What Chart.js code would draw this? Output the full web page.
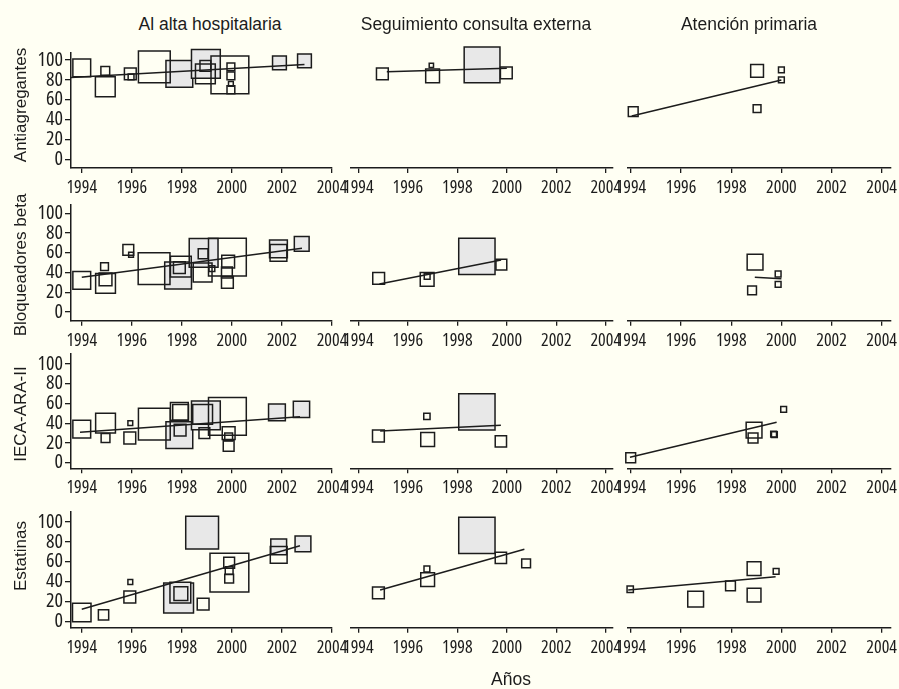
<!DOCTYPE html>
<html lang="es">
<head>
<meta charset="utf-8">
<title>Prescripción por ámbito asistencial</title>
<script src="https://cdn.jsdelivr.net/npm/chart.js@4.4.1/dist/chart.umd.min.js"></script>
<style>
  html, body { margin: 0; padding: 0; }
  body {
    width: 899px; height: 689px; position: relative; overflow: hidden;
    background: #fffff3; color: #1c1c1c;
    font-family: 'Liberation Sans', Arial, sans-serif;
  }
  canvas { position: absolute; }
  .lbl { position: absolute; white-space: nowrap; font-size: 17.5px; line-height: 20px; transform: translate(-50%, -50%); }
  .rot { font-size: 17px; transform: translate(-50%, -50%) rotate(-90deg); }
</style>
</head>
<body>
<script>
// each study: [year, percent, weight, filled(1) / open(0)]
const antiAlta = [
  [1994.0, 92, 19, 0], [1994.94, 89, 10, 0], [1994.94, 73, 21, 0], [1995.94, 86, 13, 0],
  [1995.97, 83, 7, 0], [1996.9, 93, 33, 0], [1997.9, 86, 28, 1], [1998.96, 96, 30, 1],
  [1998.94, 86, 21, 0], [1998.94, 94, 12, 0], [1999.92, 85, 39, 0], [1999.96, 93, 9, 0],
  [1999.96, 84, 9, 0], [1999.96, 76, 6, 0], [1999.96, 70, 9, 0], [2001.9, 97, 15, 1], [2002.9, 99, 15, 1]
];
const antiSeg = [
  [1994.97, 86, 13, 0], [1996.95, 94.5, 5.5, 0], [1997.0, 84, 15, 0], [1999.0, 95, 37, 1], [1999.98, 87, 13, 0]
];
const antiPrim = [
  [1994.09, 48, 11, 0], [1999.03, 89, 14, 0], [1999.03, 51, 9, 0], [2000.0, 90, 7, 0], [2000.0, 80, 7, 0]
];

const betaAlta = [
  [1994.0, 32, 19, 0], [1994.91, 46, 9, 0], [1994.95, 29, 21, 0], [1994.95, 33, 14, 0],
  [1995.86, 63, 12, 0], [1995.97, 58, 6, 0], [1996.89, 44, 33, 0], [1997.85, 37, 28, 1],
  [1997.96, 46, 22, 0], [1997.9, 45, 13, 0], [1998.87, 60, 30, 1], [1998.85, 59, 11, 0],
  [1998.83, 40, 20, 0], [1999.82, 55.5, 39, 0], [1999.2, 44, 7, 0], [1999.85, 51, 14, 0],
  [1999.8, 40, 12, 0], [1999.82, 30, 13, 0], [2001.86, 64, 19, 1], [2001.86, 60, 18, 0], [2002.79, 69, 16, 1]
];
const betaSeg = [
  [1994.82, 34, 13, 0], [1996.78, 33, 15, 0], [1996.78, 36, 7, 0], [1998.79, 56.4, 37.5, 1], [1999.78, 48, 12, 0]
];
const betaPrim = [
  [1998.95, 50.5, 17, 0], [1998.83, 22, 10, 0], [1999.87, 38.5, 7, 0], [1999.87, 28, 7, 0]
];

const iecaAlta = [
  [1994.0, 34, 19, 0], [1994.95, 40, 21, 0], [1994.95, 25, 10, 0], [1995.94, 40, 6, 0],
  [1995.92, 25, 13, 0], [1996.9, 39, 33, 0], [1997.9, 28, 28, 1], [1997.93, 33, 13, 1],
  [1998.96, 48, 30, 1], [1998.83, 49, 21, 1], [1997.9, 52, 19, 0], [1997.95, 51, 17, 0],
  [1998.9, 30, 12, 0], [1999.82, 47, 39, 0], [1999.87, 30, 14, 0], [1999.87, 17, 12, 0],
  [1999.87, 26, 9, 0], [2001.8, 51, 18, 1], [2002.78, 54, 17.5, 1]
];
const iecaSeg = [
  [1994.81, 27, 13, 0], [1996.77, 47, 7.5, 0], [1996.8, 23.5, 15, 0], [1998.79, 51.4, 37.5, 1], [1999.76, 21.5, 12.5, 0]
];
const iecaPrim = [
  [1993.99, 5, 11, 0], [1998.91, 33, 17, 0], [1998.87, 25, 11, 0], [1999.69, 29, 7, 0],
  [1999.72, 28.5, 7, 0], [2000.09, 54, 7, 0]
];

const estaAlta = [
  [1994.0, 9, 19.7, 0], [1994.87, 6.5, 11.5, 0], [1995.94, 39.6, 6, 0], [1995.92, 24.5, 13, 0],
  [1998.81, 89.4, 34, 1], [1997.87, 23.5, 31, 1], [1997.94, 29, 22, 1], [1997.96, 28, 15, 1],
  [1998.85, 17.4, 13, 0], [1999.9, 49, 40, 0], [1999.89, 59, 12, 0], [1999.89, 51, 9, 0],
  [1999.89, 43, 10, 0], [2001.87, 75, 17, 1], [2001.87, 67, 18, 0], [2002.84, 78, 17, 1]
];
const estaSeg = [
  [1994.81, 28.7, 13, 0], [1996.77, 52.7, 7, 0], [1996.8, 42, 15, 0], [1998.79, 86.6, 37.5, 1],
  [1999.76, 64, 12.5, 0], [2000.78, 58.4, 10, 0]
];
const estaPrim = [
  [1993.97, 32.3, 7.5, 0], [1996.58, 22.3, 17, 0], [1997.97, 35.8, 11, 0], [1998.91, 53, 15, 0],
  [1998.91, 26.5, 15, 0], [1999.79, 50.4, 7, 0]
];

// fitted trend lines: [year, percent] at both ends
const antiAltaFit = [[1993.57, 82.3], [2002.9, 95.3]];
const antiSegFit = [[1995.15, 88.2], [2000.0, 91.6]];
const antiPrimFit = [[1994.03, 43.6], [2000.0, 79.9]];
const betaAltaFit = [[1994.0, 35.1], [2002.8, 64.5]];
const betaSegFit = [[1994.85, 28.4], [1999.77, 52.7]];
const betaPrimFit = [[1998.94, 35.1], [2000.0, 33.7]];
const iecaAltaFit = [[1993.93, 30.8], [2002.72, 46.6]];
const iecaSegFit = [[1994.88, 32.1], [1999.76, 37.9]];
const iecaPrimFit = [[1993.96, 5.5], [1999.81, 40.9]];
const estaAltaFit = [[1994.0, 12.1], [2002.72, 76.1]];
const estaSegFit = [[1994.88, 31.5], [2000.71, 72.5]];
const estaPrimFit = [[1993.89, 31.5], [1999.77, 44.9]];

const colTitles = ['Al alta hospitalaria', 'Seguimiento consulta externa', 'Atención primaria'];
const rowTitles = ['Antiagregantes', 'Bloqueadores beta', 'IECA-ARA-II', 'Estatinas'];
const xTitle = 'Años';
const yearTicks = [1994, 1996, 1998, 2000, 2002, 2004];
const pctTicks = [0, 20, 40, 60, 80, 100];

const studies = [
  [antiAlta, antiSeg, antiPrim],
  [betaAlta, betaSeg, betaPrim],
  [iecaAlta, iecaSeg, iecaPrim],
  [estaAlta, estaSeg, estaPrim]
];
const fits = [
  [antiAltaFit, antiSegFit, antiPrimFit],
  [betaAltaFit, betaSegFit, betaPrimFit],
  [iecaAltaFit, iecaSegFit, iecaPrimFit],
  [estaAltaFit, estaSegFit, estaPrimFit]
];

// panel geometry (page pixels) and axis ranges
const colBox = [
  { left: 71, right: 332, min: 1993.57, max: 2004.0 },
  { left: 350.7, right: 612.7, min: 1993.69, max: 2004.28 },
  { left: 627.7, right: 890.7, min: 1993.87, max: 2004.36 }
];
const rowBox = [
  { top: 53, bottom: 168, min: -8.8, max: 107 },
  { top: 205, bottom: 320.7, min: -8.8, max: 108.4 },
  { top: 353.3, bottom: 468.3, min: -5.7, max: 110.8 },
  { top: 511.7, bottom: 627.7, min: -6.4, max: 110.4 }
];

// Open Sans is variable in width; the stretch keyword rides in the weight slot of the font string
const TICK_X_FONT = { family: "'Open Sans', 'DejaVu Sans Condensed', sans-serif", size: 18, weight: 'condensed' };
const TICK_Y_FONT = { family: "'Open Sans', 'DejaVu Sans Condensed', sans-serif", size: 20, weight: 'semi-condensed' };
const INK = '#1c1c1c';

function radiusFor(w) {
  return Math.max(w - 1.2, 2) / Math.SQRT2;
}

function addLabel(text, x, y, rotated) {
  const d = document.createElement('div');
  d.className = rotated ? 'lbl rot' : 'lbl';
  d.textContent = text;
  d.style.left = x + 'px';
  d.style.top = y + 'px';
  document.body.appendChild(d);
}

function makePanel(r, c) {
  const col = colBox[c], row = rowBox[r];
  const hasY = c === 0;
  const cLeft = Math.floor(col.left - (hasY ? 71 : 22));
  const cTop = Math.floor(row.top - 14);
  const cRight = Math.ceil(col.right + 22);
  const cBottom = Math.ceil(row.bottom + 32);

  const canvas = document.createElement('canvas');
  canvas.width = cRight - cLeft;
  canvas.height = cBottom - cTop;
  canvas.style.left = cLeft + 'px';
  canvas.style.top = cTop + 'px';
  document.body.appendChild(canvas);

  const pts = studies[r][c];
  const filled = pts.filter(p => p[3] === 1);
  const open = pts.filter(p => p[3] === 0);
  const asXY = arr => arr.map(p => ({ x: p[0], y: p[1] }));

  new Chart(canvas, {
    type: 'scatter',
    data: {
      datasets: [{
        type: 'line',
        data: asXY(fits[r][c]),
        borderColor: INK,
        borderWidth: 1.5,
        pointRadius: 0,
        fill: false,
        clip: false
      }, {
        data: asXY(open),
        pointStyle: 'rect',
        pointRadius: open.map(p => radiusFor(p[2])),
        pointBackgroundColor: 'rgba(0,0,0,0)',
        pointBorderColor: INK,
        pointBorderWidth: 1.5,
        clip: false
      }, {
        data: asXY(filled),
        pointStyle: 'rect',
        pointRadius: filled.map(p => radiusFor(p[2])),
        pointBackgroundColor: '#e8e8e8',
        pointBorderColor: INK,
        pointBorderWidth: 1.5,
        clip: false
      }]
    },
    options: {
      responsive: false,
      animation: false,
      events: [],
      layout: {
        autoPadding: false,
        padding: {
          left: hasY ? 0 : col.left - cLeft,
          right: cRight - col.right,
          top: row.top - cTop,
          bottom: 0
        }
      },
      plugins: { legend: { display: false }, tooltip: { enabled: false } },
      scales: {
        x: {
          type: 'linear',
          position: 'bottom',
          min: col.min,
          max: col.max,
          afterBuildTicks: s => { s.ticks = yearTicks.map(v => ({ value: v })); },
          afterFit: s => { s.height = cBottom - row.bottom; },
          grid: { drawOnChartArea: false, drawTicks: true, tickLength: 5, color: INK, lineWidth: 1.3 },
          border: { display: true, color: INK, width: 1.5 },
          ticks: {
            autoSkip: false, maxRotation: 0, padding: 4, color: INK,
            font: TICK_X_FONT,
            callback: v => String(v)
          }
        },
        y: {
          type: 'linear',
          position: 'left',
          display: hasY,
          min: row.min,
          max: row.max,
          afterBuildTicks: s => { s.ticks = pctTicks.map(v => ({ value: v })); },
          afterFit: s => { s.width = hasY ? col.left - cLeft : 0; },
          grid: { drawOnChartArea: false, drawTicks: true, tickLength: 6, color: INK, lineWidth: 1.3 },
          border: { display: true, color: INK, width: 1.5 },
          ticks: {
            autoSkip: false, padding: 2, color: INK,
            font: TICK_Y_FONT,
            callback: v => String(v)
          }
        }
      }
    }
  });
}

for (let r = 0; r < rowBox.length; r++) {
  for (let c = 0; c < colBox.length; c++) makePanel(r, c);
}

const colTitlePos = [[210, 24], [476, 24], [749, 24]];
colTitles.forEach((t, i) => addLabel(t, colTitlePos[i][0], colTitlePos[i][1], false));
const rowTitlePos = [[21, 105], [21, 265], [21, 414], [21, 556]];
rowTitles.forEach((t, i) => addLabel(t, rowTitlePos[i][0], rowTitlePos[i][1], true));
addLabel(xTitle, 511, 679, false);
</script>
</body>
</html>
